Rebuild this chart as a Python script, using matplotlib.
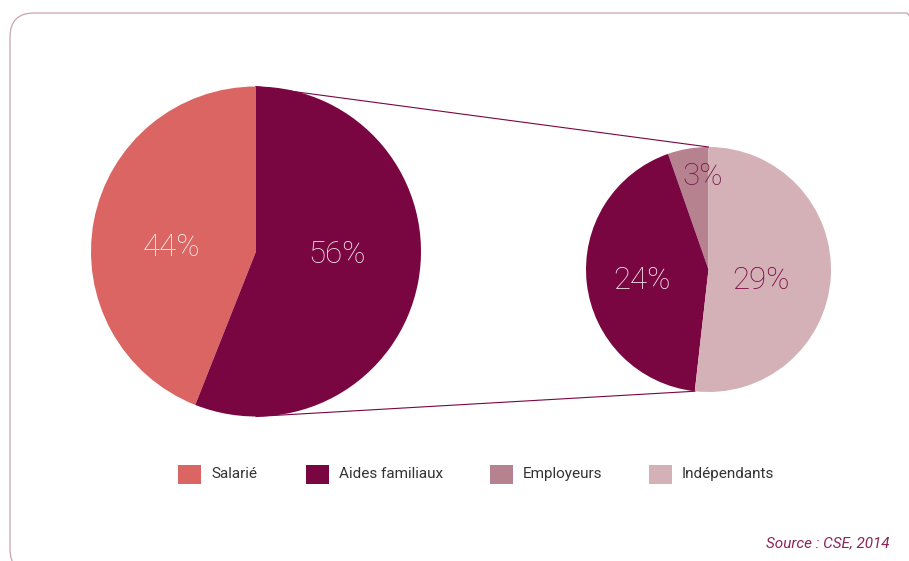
import numpy as np
import matplotlib
matplotlib.use("Agg")
import matplotlib.pyplot as plt
from matplotlib.patches import FancyBboxPatch

# repartition globale (camembert de gauche)
main_labels = ["Salarié", "Aides familiaux"]
main_values = [44, 56]
main_colors = ["#DB6563", "#7A0641"]

# detail de la part non salariee (camembert de droite)
sub_labels = ["Employeurs", "Aides familiaux", "Indépendants"]
sub_values = [3, 24, 29]
sub_colors = ["#B78290", "#7A0641", "#D3B1B7"]

legend_labels = ["Salarié", "Aides familiaux", "Employeurs", "Indépendants"]
legend_colors = ["#DB6563", "#7A0641", "#B78290", "#D3B1B7"]

W, H = 909, 561
fig = plt.figure(figsize=(W / 100, H / 100), dpi=100)
ax = fig.add_axes([0, 0, 1, 1])

# centres et rayons en pixels (y vers le haut)
c1, r1 = (256, H - 251.5), 165
c2, r2 = (708.5, H - 269.5), 122.5

ax.pie(main_values, colors=main_colors, startangle=90, center=c1, radius=r1,
       wedgeprops=dict(linewidth=0))
ax.pie(sub_values, colors=sub_colors, startangle=90, center=c2, radius=r2,
       wedgeprops=dict(linewidth=0))

# lignes de liaison entre les deux camemberts
top1 = (c1[0], c1[1] + r1)
top2 = (c2[0], c2[1] + r2)
bot1 = (c1[0], c1[1] - r1)
ang = np.deg2rad(90 + 360 * sum(sub_values[:2]) / sum(sub_values))
bot2 = (c2[0] + r2 * np.cos(ang), c2[1] + r2 * np.sin(ang))
ax.plot([top1[0], top2[0]], [top1[1], top2[1]], color="#7A0641", lw=0.8)
ax.plot([bot1[0], bot2[0]], [bot1[1], bot2[1]], color="#7A0641", lw=0.8)

# etiquettes de pourcentage
pct_font = dict(family="Roboto", weight="light", fontsize=22.5, ha="center",
                va="center", zorder=5)
main_pos = [(-0.51, 0.027), (0.49, -0.021)]
main_txt = ["#FBEFF0", "#F6E8EE"]
for v, (dx, dy), col in zip(main_values, main_pos, main_txt):
    ax.text(c1[0] + dx * r1, c1[1] + dy * r1, f"{v}%", color=col, **pct_font)

sub_pos = [(-0.045, 0.76), (-0.54, -0.086), (0.43, -0.086)]
sub_txt = ["#7A1748", "#F6E8EE", "#7A0641"]
for v, (dx, dy), col in zip(sub_values, sub_pos, sub_txt):
    ax.text(c2[0] + dx * r2, c2[1] + dy * r2, f"{v}%", color=col, **pct_font)

# legende
leg_x = [178, 306, 490, 649]
for x, lab, col in zip(leg_x, legend_labels, legend_colors):
    ax.add_patch(plt.Rectangle((x, H - 484), 23, 19, color=col, lw=0))
    ax.text(x + 33, H - 474, lab, family="Roboto", fontsize=11,
            color="#333333", ha="left", va="center")

ax.text(889, H - 543, "Source : CSE, 2014", family="Roboto", style="italic",
        fontsize=11, color="#8B2457", ha="right", va="center")

# cadre arrondi
frame = FancyBboxPatch((10, -12), 920, H - 13 + 12,
                       boxstyle="round,pad=0,rounding_size=24",
                       fill=False, ec="#C9A3B2", lw=0.9)
ax.add_patch(frame)

ax.set_xlim(0, W)
ax.set_ylim(0, H)
ax.set_aspect("equal")
ax.axis("off")

fig.savefig("out.png", dpi=100)
